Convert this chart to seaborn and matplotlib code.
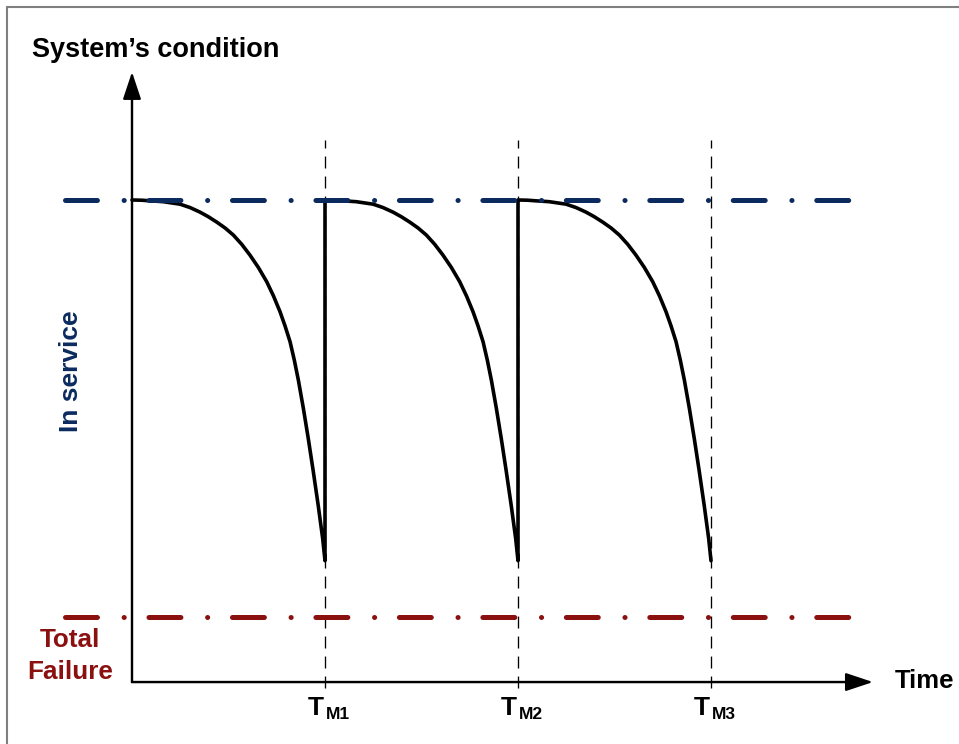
import pandas as pd
import seaborn as sns
import matplotlib.pyplot as plt
from matplotlib.lines import Line2D

# --- data (condition: 1 = in service, 0 = total failure; time in maintenance intervals) ---
maint_times = [1, 2, 3]
maint_labels = ["M1", "M2", "M3"]
in_service_level = 1.0
failure_level = 0.0

# one degradation cycle: age since maintenance vs condition
cycle_age = [0.0, 0.050, 0.093, 0.161, 0.249, 0.300, 0.352, 0.395, 0.439,
             0.482, 0.525, 0.568, 0.611, 0.655, 0.698, 0.733, 0.767, 0.793,
             0.819, 0.841, 0.862, 0.888, 0.914, 0.939, 0.965, 0.988, 1.0]
cycle_condition = [1.0, 0.9995, 0.998, 0.996, 0.990, 0.982, 0.971, 0.960, 0.947,
                   0.933, 0.916, 0.894, 0.868, 0.838, 0.804, 0.770, 0.732, 0.698,
                   0.660, 0.616, 0.568, 0.500, 0.426, 0.350, 0.267, 0.188, 0.135]

NAVY = "#0b2a5e"
DARK_RED = "#8b1111"

sns.set_theme(style="white")
plt.rcParams['font.family'] = ['Liberation Sans', 'DejaVu Sans']
plt.rcParams['lines.scale_dashes'] = False

# build the saw-tooth condition series
rows = []
for start in [0] + maint_times[:-1]:
    for age, cond in zip(cycle_age, cycle_condition):
        rows.append({"time": start + age, "condition": cond})
df = pd.DataFrame(rows)

fig = plt.figure(figsize=(9.59, 7.44), dpi=100)
ax = fig.add_axes([0, 0, 1, 1])
ax.set_xlim(-132 / 193, (959 - 132) / 193)
ax.set_ylim(-(744 - 617) / 417, 617 / 417)
ax.set_axis_off()

# maintenance markers
for t in maint_times:
    ax.plot([t, t], [-0.17, 1.144], color="black", lw=0.95,
            dashes=(8.6, 5.8), zorder=1)

# condition curve
sns.lineplot(data=df, x="time", y="condition", sort=False, estimator=None,
             color="black", lw=2.6, ax=ax, zorder=3)

# reference levels
ax.plot([-0.345, 3.72], [in_service_level] * 2, color=NAVY, lw=3.6,
        dashes=(23, 19.2, 0.1, 17.8), dash_capstyle="round", zorder=4)
ax.plot([-0.345, 3.72], [failure_level] * 2, color=DARK_RED, lw=3.6,
        dashes=(23, 19.2, 0.1, 17.8), dash_capstyle="round", zorder=4)

# axes with arrows
y0 = -0.156
ax.plot([0, 0, 3.7], [1.25, y0, y0], color="black", lw=1.6,
        solid_joinstyle="miter", zorder=5)
arrow = dict(arrowstyle="-|>,head_length=1.2,head_width=0.4", color="black",
             lw=1.6, mutation_scale=14, shrinkA=0, shrinkB=0)
ax.annotate("", xy=(0, 1.307), xytext=(0, y0), arrowprops=arrow, zorder=5)
ax.annotate("", xy=(3.839, y0), xytext=(0, y0), arrowprops=arrow, zorder=5)

# texts
ax.text(-0.518, 1.343, "System\u2019s condition", fontsize=19.5, fontweight="bold",
        ha="left", va="baseline", color="black")
ax.text(3.953, -0.170, "Time", fontsize=18.5, fontweight="bold",
        ha="left", va="baseline", color="black")
ax.text(-0.321, -0.072, "Total", fontsize=18.8, fontweight="bold",
        ha="center", va="baseline", color=DARK_RED)
ax.text(-0.321, -0.149, "Failure", fontsize=18.8, fontweight="bold",
        ha="center", va="baseline", color=DARK_RED)
ax.text(-0.316, 0.590, "In service", fontsize=19, fontweight="bold", rotation=90,
        ha="center", va="center", color=NAVY)

for t, lab in zip(maint_times, maint_labels):
    ax.text(t - 0.004, -0.235, "T", fontsize=19, fontweight="bold",
            ha="right", va="baseline", color="black")
    ax.text(t + 0.006, -0.245, lab, fontsize=12.5, fontweight="bold",
            ha="left", va="baseline", color="black")

# frame around the figure (only left and top edges are visible)
fx, fy = 7 / 959, 1 - 7 / 744
fig.add_artist(Line2D([fx, fx], [0, fy], transform=fig.transFigure,
                      color="#808080", lw=1.5))
fig.add_artist(Line2D([fx, 1], [fy, fy], transform=fig.transFigure,
                      color="#808080", lw=1.5))

fig.savefig("out.png", dpi=100)
